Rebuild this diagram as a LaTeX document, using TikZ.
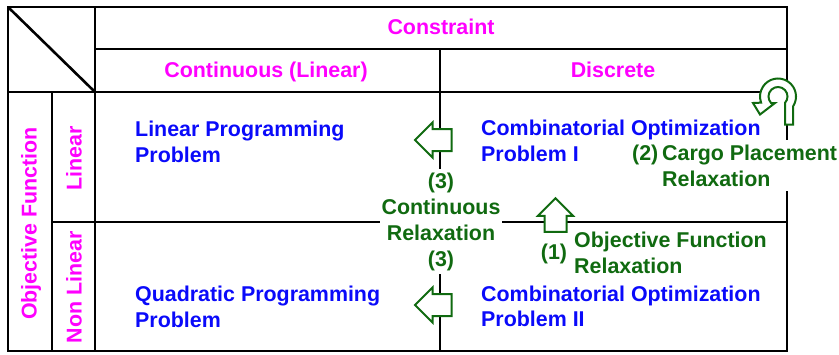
\documentclass[tikz,border=0pt]{standalone}
\usepackage{fontspec}
\setmainfont{Liberation Sans}
\definecolor{magtxt}{RGB}{255,0,255}
\definecolor{bluetxt}{RGB}{10,10,250}
\definecolor{greentxt}{RGB}{16,106,16}
\begin{document}
\begin{tikzpicture}[x=1pt,y=-1pt,
  grid/.style={line width=2.6pt, draw=black},
  lbl/.style={font=\fontsize{21.4}{25.7}\selectfont\bfseries, inner sep=0pt},
  head/.style={lbl, text=magtxt},
  prob/.style={lbl, text=bluetxt, align=left, anchor=base west},
  note/.style={lbl, text=greentxt},
  arrowbox/.style={draw=greentxt, fill=white, line width=2pt, line join=miter},
  pics/blockarrow/.style={code={
    \draw[arrowbox] (0,0) -- (-17.5,17.5) -- (-17.5,11) -- ({-17.5-#1},11)
      -- ({-17.5-#1},-11) -- (-17.5,-11) -- (-17.5,-17.5) -- cycle;}}
]
\useasboundingbox (0,0) rectangle (839,354);

% table frame and rules
\draw[grid] (8,7) rectangle (787,351);
\draw[grid] (95,49) -- (787,49);
\draw[grid] (8,92) -- (787,92);
\draw[grid] (95,7) -- (95,351);
\draw[grid] (52,92) -- (52,351);
\draw[grid] (440,49) -- (440,351);
\draw[grid] (52,222) -- (787,222);
\draw[grid] (8,7) -- (95,92);

% relaxation labels (multi-line nodes are anchored at their last baseline)
\node[note, fill=white, align=center, inner xsep=2pt, inner ysep=4pt, anchor=base]
  (crelax) at (441,266) {(3)\\Continuous\\Relaxation\\(3)};
\node[note, anchor=base west] (n2) at (632,160.5) {(2)};
\node[note, fill=white, align=left, inner xsep=2pt, inner ysep=5pt, anchor=base west]
  (cargo) at (660,186) {Cargo Placement\\Relaxation};
\node[note] (n1) at (554,253.5) {(1)};
\node[note, align=left, anchor=base west] (objrelax) at (574,273.5)
  {Objective Function\\Relaxation};

% circular "relaxation" arrow on the right border
\begin{scope}[shift={(778,96.5)}]
  \fill[white] (0pt,0pt) circle[radius=10pt];
  \filldraw[arrowbox] (15pt,-28pt) -- (15pt,-9.96pt)
    arc[start angle=-33.6, end angle=200, radius=18pt]
    -- (-25pt,-6.5pt) -- (-18pt,-18pt) -- (-3pt,-6.5pt) -- (-6.93pt,-6.5pt)
    arc[start angle=223.2, end angle=-42.5, radius=9.5pt]
    -- (7pt,-28pt) -- cycle;
\end{scope}

% block arrows
\pic[rotate=180] at (415,140) {blockarrow=19};
\pic[rotate=180] at (415,305) {blockarrow=19};
\pic[rotate=90] at (555.5,198.3) {blockarrow=16};

% headers
\node[head, anchor=base] (constraint) at (441,34) {Constraint};
\node[head, anchor=base] (cont) at (266,77) {Continuous (Linear)};
\node[head, anchor=base] (disc) at (613,77) {Discrete};
\node[head, rotate=90, anchor=base] (objf) at (36.7,223.5) {Objective Function};
\node[head, rotate=90, anchor=base] (lin) at (81.5,158) {Linear};
\node[head, rotate=90, anchor=base] (nonlin) at (81.5,287.5) {Non Linear};

% problem classes
\node[prob] (lp) at (135,162.2) {Linear Programming\\Problem};
\node[prob] (qp) at (135,327.4) {Quadratic Programming\\Problem};
\node[prob] (co1) at (481,161.4) {Combinatorial Optimization\\Problem I};
\node[prob] (co2) at (481,326.8) {Combinatorial Optimization\\Problem II};
\end{tikzpicture}
\end{document}
